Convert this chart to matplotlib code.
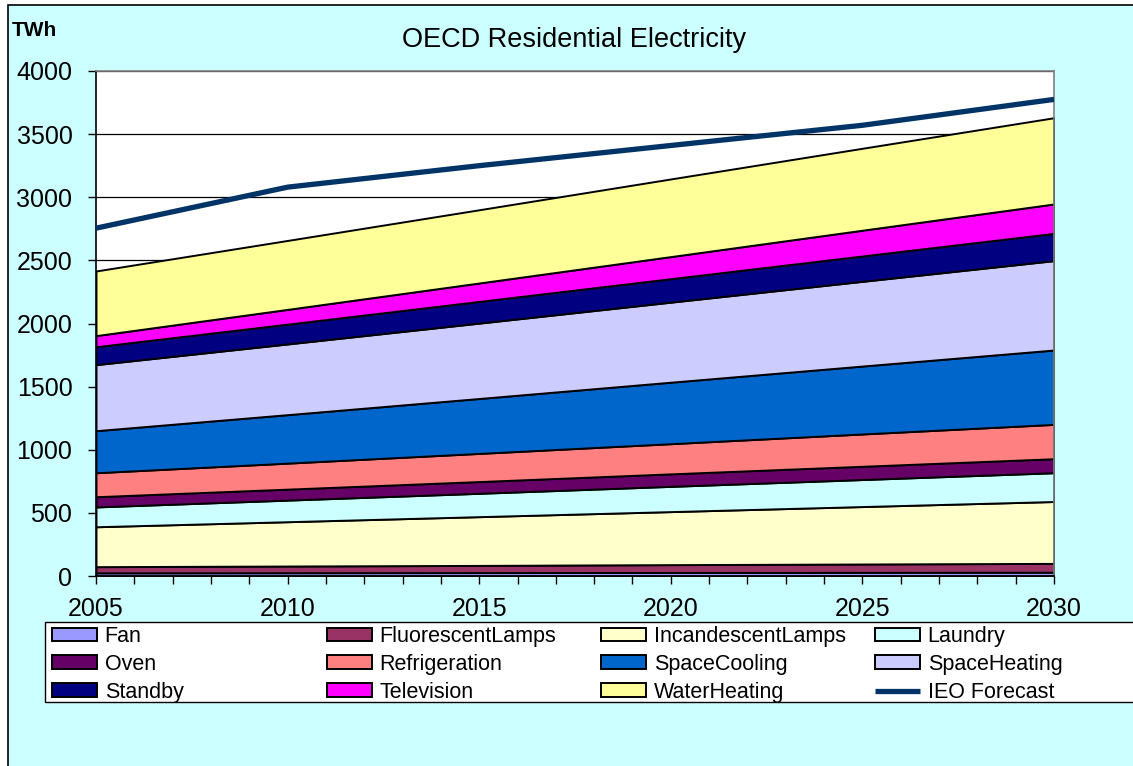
import matplotlib
matplotlib.use("Agg")
from matplotlib import pyplot as plt
from matplotlib.patches import Rectangle

plt.rcParams['font.family'] = ['Liberation Sans', 'DejaVu Sans']

# data (TWh)
years = [2005, 2010, 2015, 2020, 2025, 2030]
fan = [25, 26, 27, 28, 29, 30]
fluorescent = [49, 53, 57, 62, 66, 70]
incandescent = [316, 351, 386, 420, 455, 490]
laundry = [157, 171, 185, 200, 214, 228]
oven = [81, 87, 93, 99, 105, 111]
refrigeration = [190, 206, 223, 239, 256, 272]
space_cooling = [333, 384, 435, 487, 538, 589]
space_heating = [523, 560, 597, 634, 671, 708]
standby = [142, 157, 172, 186, 201, 216]
television = [88, 117, 146, 175, 204, 233]
water_heating = [512, 546, 580, 615, 649, 683]
ieo_forecast = [2755, 3080, 3250, 3410, 3570, 3775]

labels = ["Fan", "FluorescentLamps", "IncandescentLamps", "Laundry", "Oven",
          "Refrigeration", "SpaceCooling", "SpaceHeating", "Standby",
          "Television", "WaterHeating"]
colors = ["#9999FF", "#993366", "#FFFFCC", "#CCFFFF", "#660066", "#FF8080",
          "#0066CC", "#CCCCFF", "#000080", "#FF00FF", "#FFFF99"]

W, H = 1133, 766
fig = plt.figure(figsize=(W / 100, H / 100), dpi=100)
fig.patch.set_facecolor("white")
# chart area background with border (right/bottom run off the picture)
fig.patches.append(Rectangle((8 / W, -0.1), 1.2, 1 - 5 / H + 0.1,
                             transform=fig.transFigure, facecolor="#CCFFFF",
                             edgecolor="black", linewidth=1.2, zorder=-10))

ax = fig.add_axes([96 / W, 1 - 576 / H, (1054 - 96) / W, (576 - 71) / H])
ax.set_facecolor("white")

polys = ax.stackplot(years, fan, fluorescent, incandescent, laundry, oven,
                     refrigeration, space_cooling, space_heating, standby,
                     television, water_heating, labels=labels, colors=colors,
                     edgecolor="black", linewidth=1.4, zorder=2)
line, = ax.plot(years, ieo_forecast, color="#003366", linewidth=3.8,
                label="IEO Forecast", zorder=3, solid_capstyle="butt")

ax.set_xlim(2005, 2030)
ax.set_ylim(0, 4000)
ax.set_yticks(range(0, 4001, 500))
ax.set_xticks(range(2005, 2031))
ax.set_xticklabels([str(y) if y % 5 == 0 else "" for y in range(2005, 2031)])
ax.yaxis.grid(True, color="black", linewidth=0.9, zorder=0)
ax.set_axisbelow(True)
ax.tick_params(axis="both", direction="out", length=6, width=1, color="black",
               labelsize=18)
ax.tick_params(axis="y", pad=11)
ax.tick_params(axis="x", pad=9)
for s in ["top", "right"]:
    ax.spines[s].set_color("#808080")
    ax.spines[s].set_linewidth(1.2)
for s in ["left", "bottom"]:
    ax.spines[s].set_color("black")
    ax.spines[s].set_linewidth(1.2)

fig.text(574 / W, 1 - 40 / H, "OECD Residential Electricity", ha="center",
         va="center", fontsize=19.5)
fig.text(12 / W, 1 - 31 / H, "TWh", ha="left", va="center", fontsize=15,
         fontweight="bold")

# legend: white box, then one legend per column so columns sit at fixed spots
fig.patches.append(Rectangle((45 / W, 1 - 701.5 / H), 1100 / W, 80 / H,
                             transform=fig.transFigure, facecolor="white",
                             edgecolor="black", linewidth=1.0, zorder=5))
handles = list(polys) + [line]
names = labels + ["IEO Forecast"]
col_x = [52, 327, 601, 875]
for c in range(4):
    idx = [c, c + 4, c + 8]
    leg = fig.legend([handles[i] for i in idx], [names[i] for i in idx],
                     loc="upper left", bbox_to_anchor=(col_x[c] / W, 1 - 626 / H),
                     fontsize=15.5, frameon=False, handlelength=2.1,
                     handleheight=0.6, handletextpad=0.35, labelspacing=0.32,
                     borderpad=0, borderaxespad=0)
    leg.set_zorder(6)

fig.savefig("out.png", dpi=100)
